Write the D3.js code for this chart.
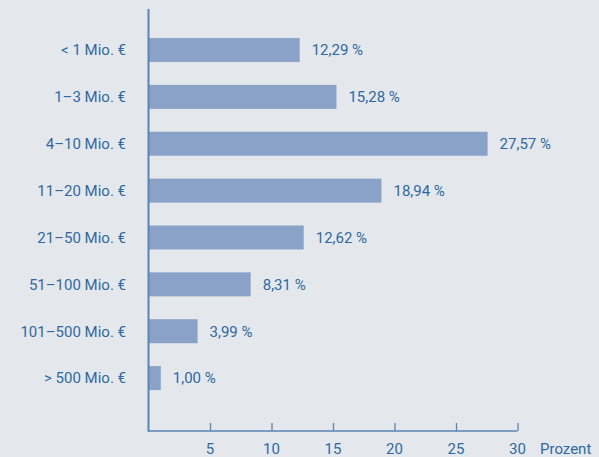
<!DOCTYPE html>
<html><head><meta charset="utf-8">
<script src="https://cdn.jsdelivr.net/npm/d3@7"></script>
<style>
html,body{margin:0;padding:0;background:#e4e8ec;}
svg{display:block;}
text{font-family:Roboto, "Liberation Sans", sans-serif;}
</style></head>
<body>
<script>
const categories = ["< 1 Mio. €","1–3 Mio. €","4–10 Mio. €","11–20 Mio. €","21–50 Mio. €","51–100 Mio. €","101–500 Mio. €","> 500 Mio. €"];
const values = [12.29, 15.28, 27.57, 18.94, 12.62, 8.31, 3.99, 1.00];
const valueLabels = ["12,29 %","15,28 %","27,57 %","18,94 %","12,62 %","8,31 %","3,99 %","1,00 %"];
const tickValues = [5, 10, 15, 20, 25, 30];
const axisUnit = "Prozent";

const W = 599, H = 457;
const textColor = "#2f68a0", axisColor = "#5a84b0", barColor = "#8aa2c8";
const fs = 15;
const svg = d3.select("body").append("svg").attr("width", W).attr("height", H);
svg.append("rect").attr("width", W).attr("height", H).attr("fill", "#e4e8ec");

const x = d3.scaleLinear().domain([0, 30]).range([148.5, 517.5]);
const y = d3.scaleBand().domain(categories).range([26.6, 401.5]).paddingInner(0.488).paddingOuter(0.244);
const baseY = 431;

svg.selectAll("rect.bar").data(values).enter().append("rect")
  .attr("class","bar")
  .attr("x", x(0))
  .attr("y", (d,i) => y(categories[i]))
  .attr("width", d => x(d) - x(0))
  .attr("height", y.bandwidth())
  .attr("fill", barColor);

svg.selectAll("text.val").data(values).enter().append("text")
  .attr("class","val")
  .attr("x", d => x(d) + 12)
  .attr("y", (d,i) => y(categories[i]) + y.bandwidth()/2)
  .attr("dy","0.36em")
  .attr("font-size", fs)
  .attr("fill", textColor)
  .text((d,i) => valueLabels[i]);

svg.selectAll("text.cat").data(categories).enter().append("text")
  .attr("class","cat")
  .attr("x", 126)
  .attr("y", d => y(d) + y.bandwidth()/2)
  .attr("dy","0.36em")
  .attr("text-anchor","end")
  .attr("font-size", fs)
  .attr("fill", textColor)
  .text(d => d);

const xAxis = d3.axisTop(x).tickValues(tickValues).tickSize(8).tickFormat("");
const gx = svg.append("g").attr("transform", `translate(0,${baseY})`).call(xAxis);
gx.select(".domain").remove();
gx.selectAll(".tick line").attr("stroke", axisColor).attr("stroke-width", 1.3);
svg.append("line").attr("x1", x(0)).attr("x2", x(30)).attr("y1", baseY).attr("y2", baseY)
  .attr("stroke", axisColor).attr("stroke-width", 1.5);

svg.selectAll("text.tick").data(tickValues).enter().append("text")
  .attr("class","tick")
  .attr("x", d => x(d))
  .attr("y", 454)
  .attr("text-anchor","middle")
  .attr("font-size", fs)
  .attr("fill", textColor)
  .text(d => d);

svg.append("text").attr("x", 540).attr("y", 454).attr("font-size", fs).attr("fill", textColor).text(axisUnit);

svg.append("line").attr("x1", x(0)).attr("x2", x(0)).attr("y1", 9).attr("y2", baseY + 0.75)
  .attr("stroke", axisColor).attr("stroke-width", 2);
</script>
</body></html>
